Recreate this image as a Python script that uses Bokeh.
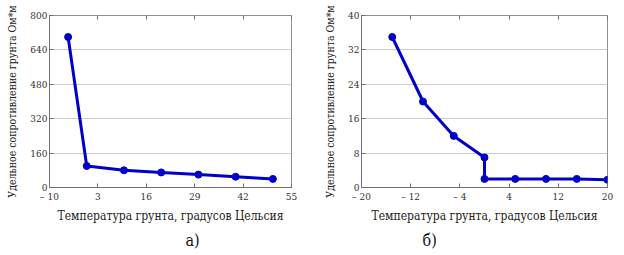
from bokeh.plotting import figure
from bokeh.layouts import row
from bokeh.models import FixedTicker, LinearAxis, Range1d, Title
from bokeh.embed import file_html
from bokeh.resources import INLINE

# Chart а)
temp_a = [-5, 0, 10, 20, 30, 40, 50]
res_a = [700, 100, 80, 70, 60, 50, 40]
xticks_a = [-10, 3, 16, 29, 42, 55]
yticks_a = [0, 160, 320, 480, 640, 800]

# Chart б)
temp_b = [-15, -10, -5, 0, 0, 5, 10, 15, 20]
res_b = [35, 20, 12, 7, 2, 2, 2, 2, 1.8]
xticks_b = [-20, -12, -4, 4, 12, 20]
yticks_b = [0, 8, 16, 24, 32, 40]

xlabel = "Температура грунта, градусов Цельсия"
ylabel = "Удельное сопротивление грунта Ом*м"
captions = ["а)", "б)"]

FONT = "DejaVu Serif Condensed"
BLUE = "#0000C8"


def fmt(v):
    return ("\u2013 " + str(abs(v))) if v < 0 else str(v)


def make(xs, ys, xt, yt, width, borders, caption, cap_offset):
    left, right, top, bottom = borders
    p = figure(width=width, height=255,
               x_range=Range1d(xt[0], xt[-1]), y_range=Range1d(yt[0], yt[-1]),
               output_backend="svg", toolbar_location=None,
               min_border_left=left, min_border_right=right,
               min_border_top=top, min_border_bottom=bottom)
    p.background_fill_color = "white"
    p.border_fill_color = "white"
    p.outline_line_color = "#909090"
    p.outline_line_width = 1
    p.xgrid.visible = False
    p.ygrid.grid_line_color = "#cccccc"
    p.ygrid.grid_line_width = 1
    p.ygrid.ticker = FixedTicker(ticks=yt)

    for ax, ticks in ((p.xaxis[0], xt), (p.yaxis[0], yt)):
        ax.ticker = FixedTicker(ticks=ticks)
        ax.major_label_overrides = {t: fmt(t) for t in ticks}
        ax.major_tick_in = 4
        ax.major_tick_out = 0
        ax.minor_tick_line_color = None
        ax.axis_line_color = "#707070"
        ax.major_tick_line_color = "#707070"
        ax.major_label_text_font = FONT
        ax.major_label_text_font_size = "10px"
        ax.major_label_text_color = "#333333"
        ax.axis_label_text_font = FONT
        ax.axis_label_text_font_style = "normal"
        ax.axis_label_text_color = "#222222"
    p.xaxis[0].axis_label = xlabel
    p.yaxis[0].axis_label = ylabel
    p.xaxis[0].axis_label_text_font_size = "12px"
    p.yaxis[0].axis_label_text_font_size = "10.5px"
    p.xaxis[0].major_label_standoff = 3
    p.yaxis[0].major_label_standoff = 2
    p.xaxis[0].axis_label_standoff = 4
    p.yaxis[0].axis_label_standoff = 9

    top_ax = LinearAxis(ticker=FixedTicker(ticks=xt))
    top_ax.major_label_overrides = {t: "" for t in xt}
    top_ax.major_tick_in = 4
    top_ax.major_tick_out = 0
    top_ax.minor_tick_line_color = None
    top_ax.axis_line_color = None
    top_ax.major_tick_line_color = "#707070"
    p.add_layout(top_ax, "above")

    p.line(xs, ys, line_color=BLUE, line_width=3)
    p.scatter(xs, ys, marker="circle", size=7, fill_color=BLUE, line_color=BLUE)

    cap = Title(text=caption, align="left", offset=cap_offset, standoff=7,
                text_font=FONT, text_font_size="16px", text_font_style="normal",
                text_color="#111111")
    p.add_layout(cap, "below")
    return p


pa = make(temp_a, res_a, xticks_a, yticks_a, 312, (49, 21, 15, 68),
          captions[0], 136)
pb = make(temp_b, res_b, xticks_b, yticks_b, 312, (49, 17, 12, 67),
          captions[1], 61)

layout = row(pa, pb)
open("out.html", "w").write(file_html(layout, INLINE))
